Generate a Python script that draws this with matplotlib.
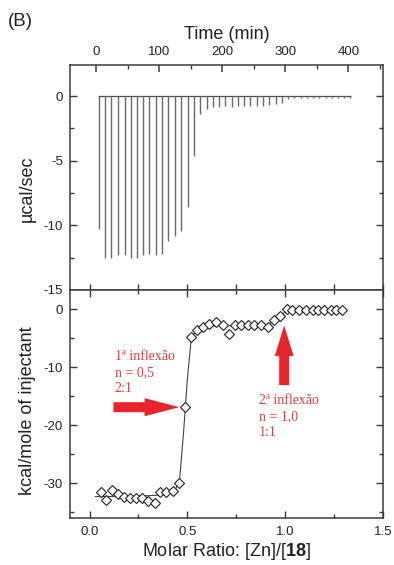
import matplotlib
matplotlib.use("Agg")
import matplotlib.pyplot as plt
from matplotlib.ticker import MultipleLocator

plt.rcParams['font.family'] = ['Liberation Sans', 'DejaVu Sans']
plt.rcParams['mathtext.fontset'] = 'custom'
plt.rcParams['mathtext.rm'] = 'Liberation Sans'
plt.rcParams['mathtext.bf'] = 'Liberation Sans:bold'
plt.rcParams['axes.unicode_minus'] = False

# ---- data: raw thermogram (injection time in min, peak depth in µcal/sec)
inj_time = [3.7, 14.3, 23.8, 34.4, 45.0, 54.5, 64.6, 74.0, 83.7, 94.3, 104.3,
            113.9, 124.5, 134.0, 144.7, 154.7, 164.2, 174.9, 184.4, 194.4, 204.0,
            214.6, 224.2, 234.2, 243.7, 254.4, 263.9, 274.4, 284.6, 294.1, 304.6,
            314.2, 324.3, 333.9, 344.4, 353.9, 364.0, 373.6, 383.1, 393.2, 402.7]
peak_depth = [-10.3, -12.5, -12.5, -12.3, -12.3, -12.5, -12.5, -12.3, -12.2, -12.3, -12.2,
              -11.2, -10.8, -10.4, -8.6, -4.6, -1.4, -1.0, -0.85, -0.85, -0.8,
              -0.85, -0.8, -0.8, -0.8, -0.8, -0.8, -0.7, -0.6, -0.55, -0.2,
              -0.15, -0.12, -0.12, -0.12, -0.12, -0.12, -0.12, -0.12, -0.12, -0.12]

# ---- data: integrated heats
molar_ratio = [0.056, 0.085, 0.114, 0.145, 0.175, 0.207, 0.238, 0.269, 0.301, 0.332,
               0.360, 0.391, 0.425, 0.456, 0.490, 0.520, 0.548, 0.578, 0.609, 0.646,
               0.680, 0.714, 0.743, 0.776, 0.808, 0.842, 0.876, 0.910, 0.944, 0.974,
               1.009, 1.037, 1.070, 1.105, 1.140, 1.170, 1.200, 1.233, 1.262, 1.292]
heat = [-31.5, -32.9, -31.2, -31.8, -32.4, -32.5, -32.5, -32.5, -33.0, -33.4,
        -31.5, -31.5, -31.4, -29.9, -16.9, -4.8, -3.6, -3.0, -2.5, -2.2,
        -2.8, -4.3, -2.7, -2.7, -2.7, -2.7, -2.7, -3.1, -1.9, -1.1,
        0.0, -0.1, -0.2, -0.2, -0.1, -0.1, -0.2, -0.2, -0.2, -0.1]

fit_x = [0.03, 0.20, 0.40, 0.44, 0.46, 0.48, 0.50, 0.52, 0.55, 0.60, 0.90, 0.94, 0.98, 1.02, 1.06, 1.30]
fit_y = [-32.3, -32.3, -32.0, -31.0, -29.5, -21.5, -12.0, -5.0, -3.4, -2.9, -2.8, -2.2, -0.9, -0.2, 0.0, 0.0]

time_ticks = [0, 100, 200, 300, 400]

W, H = 394, 565
fig = plt.figure(figsize=(W / 100, H / 100), dpi=100)

def fx(px):
    return px / W

def fy(py):
    return 1 - py / H

L, R = 70, 383
ax1 = fig.add_axes([fx(L), fy(290), fx(R) - fx(L), fy(65) - fy(290)])
ax2 = fig.add_axes([fx(L), fy(518), fx(R) - fx(L), fy(290) - fy(518)])

spine_c = '#3a3a3a'
txt_c = '#222222'
for ax in (ax1, ax2):
    for s in ax.spines.values():
        s.set_linewidth(1.1)
        s.set_color(spine_c)

# ---- top panel
ax1.hlines(0, inj_time[0] - 2, inj_time[-1] + 2, color='#505050', lw=0.9)
ax1.vlines(inj_time, peak_depth, 0, color='#6a6a6a', lw=1.0)
ax1.set_xlim(-42, 455)
ax1.set_ylim(-15, 2.4)
ax1.xaxis.tick_top()
ax1.xaxis.set_label_position('top')
ax1.set_xticks(time_ticks)
ax1.xaxis.set_minor_locator(MultipleLocator(50))
ax1.yaxis.set_major_locator(MultipleLocator(5))
ax1.yaxis.set_minor_locator(MultipleLocator(2.5))
ax1.tick_params(axis='x', which='both', direction='in', top=True, bottom=False,
                labelsize=9.5, pad=5, colors=spine_c, labelcolor=txt_c)
ax1.tick_params(axis='x', which='major', length=5, width=1.1)
ax1.tick_params(axis='x', which='minor', length=3, width=1.0)
ax1.tick_params(axis='y', which='both', direction='in', left=True, right=True,
                labelsize=9.5, pad=5, colors=spine_c, labelcolor=txt_c)
ax1.tick_params(axis='y', which='major', length=5, width=1.0)
ax1.tick_params(axis='y', which='minor', length=3, width=1.0)
ax1.set_xlabel('Time (min)', fontsize=13, labelpad=5, color=txt_c)
ax1.set_ylabel('µcal/sec', fontsize=13, color=txt_c)
ax1.yaxis.set_label_coords(-0.11, 0.45)

# ---- bottom panel
ax2.plot(fit_x, fit_y, color='#444444', lw=0.8, zorder=2)
ax2.plot(molar_ratio, heat, linestyle='none', marker='D', markersize=5.5,
         markerfacecolor='white', markeredgecolor='#222', markeredgewidth=0.8, zorder=3)
ax2.set_xlim(-0.1, 1.5)
ax2.set_ylim(-36, 3.3)
ax2.xaxis.set_major_locator(MultipleLocator(0.5))
ax2.xaxis.set_minor_locator(MultipleLocator(0.25))
ax2.yaxis.set_major_locator(MultipleLocator(10))
ax2.yaxis.set_minor_locator(MultipleLocator(5))
ax2.xaxis.set_major_formatter(plt.FormatStrFormatter('%.1f'))
ax2.tick_params(axis='both', which='both', direction='in', top=True, right=True,
                labelsize=9.5, colors=spine_c, labelcolor=txt_c)
ax2.tick_params(axis='x', pad=6)
ax2.tick_params(axis='y', pad=5)
ax2.tick_params(which='major', length=5, width=1.0)
ax2.tick_params(which='minor', length=3, width=1.0)
sec = ax2.secondary_xaxis('top')
sec.xaxis.set_major_locator(MultipleLocator(0.25))
sec.tick_params(direction='out', length=4, width=1.0, labeltop=False, colors=spine_c)
sec.spines['top'].set_visible(False)
ax2.set_xlabel(r'Molar Ratio: [Zn]/[$\mathbf{18}$]', fontsize=13, labelpad=2, color=txt_c)
ax2.set_ylabel('kcal/mole of injectant', fontsize=13, color=txt_c)
ax2.yaxis.set_label_coords(-0.11, 0.47)

red = '#e8232a'
ax2.annotate('', xy=(0.459, -16.9), xytext=(0.122, -16.9),
             arrowprops=dict(arrowstyle='simple,head_length=2.5,head_width=1.3,tail_width=0.72',
                             color=red, lw=0, shrinkA=0, shrinkB=0))
ax2.annotate('', xy=(0.995, -2.8), xytext=(0.995, -13.1),
             arrowprops=dict(arrowstyle='simple,head_length=2.2,head_width=1.35,tail_width=0.72',
                             color=red, lw=0, shrinkA=0, shrinkB=0))

serif = ['Liberation Serif', 'DejaVu Serif']
ax2.text(0.128, -7.0, '1ª inflexão\nn = 0,5\n2:1', color='#ee3a3a', fontsize=10, family=serif,
         ha='left', va='top', linespacing=1.3)
ax2.text(0.864, -14.7, '2ª inflexão\nn = 1,0\n1:1', color='#ee3a3a', fontsize=10, family=serif,
         ha='left', va='top', linespacing=1.3)

fig.text(fx(8), fy(22), '(B)', fontsize=13.5, ha='left', va='center', color=txt_c)

fig.savefig('out.png', dpi=100)
